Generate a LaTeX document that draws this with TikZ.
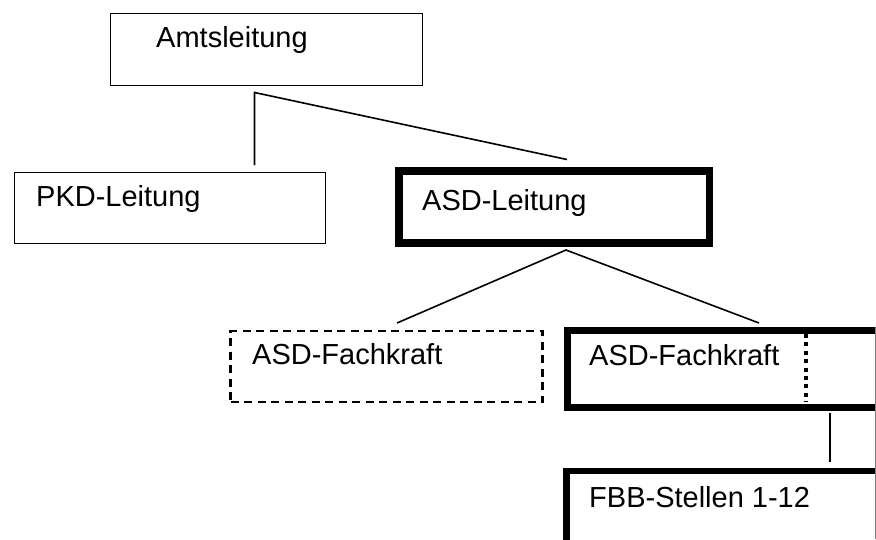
\documentclass[tikz,border=0pt]{standalone}
\usepackage{fontspec}
\setmainfont{Liberation Sans}
\begin{document}
\begin{tikzpicture}[x=1pt,y=-1pt,
  box/.style={draw, line width=1.6pt, rectangle, inner sep=0pt, outer sep=0pt, anchor=north west},
  thickbox/.style={box, line width=7.5pt},
  dashbox/.style={box, line width=2.2pt, dash pattern=on 8pt off 5.5pt},
  lbl/.style={anchor=base west, inner sep=0pt, font=\fontsize{29}{34}\selectfont},
  conn/.style={line width=1.6pt},
  dotline/.style={line width=4pt, dash pattern=on 4pt off 4.4pt}
]
\useasboundingbox (0,0) rectangle (876,539);
\clip (0,0) rectangle (876,539);
% boxes
\node[box, minimum width=312pt, minimum height=72pt] (amt) at (110.5,13.5) {};
\node[box, minimum width=311pt, minimum height=71pt] (pkd) at (14.5,172.5) {};
\node[thickbox, minimum width=310.5pt, minimum height=72pt] (asdl) at (399,171) {};
\node[dashbox, minimum width=312pt, minimum height=71pt] (asdfa) at (230.5,331) {};
\node[thickbox, line width=7pt, minimum width=320pt, minimum height=77pt] (asdfb) at (567.5,330.5) {};
\node[thickbox, line width=6.5pt, minimum width=320pt, minimum height=120pt] (fbb) at (566.5,471) {};
% labels
\node[lbl] (tamt) at (156,47.3) {Amtsleitung};
\node[lbl] (tpkd) at (36,206.3) {PKD-Leitung};
\node[lbl] (tasdl) at (422,210) {ASD-Leitung};
\node[lbl] (tasdfa) at (252,364) {ASD-Fachkraft};
\node[lbl] (tasdfb) at (589,365.7) {ASD-Fachkraft};
\node[lbl] (tfbb) at (589,507.7) {FBB-Stellen 1-12};
% connector points
\coordinate (j1) at (254.5,92.5);
\coordinate (pkdtop) at (254.5,165);
\coordinate (asdltop) at (567,159.5);
\coordinate (j2) at (566,250);
\coordinate (fatop) at (397,323);
\coordinate (fbtop) at (759,323);
\coordinate (fbbot) at (830,413);
\coordinate (fbbtop) at (830,462);
\coordinate (d1) at (806,334);
\coordinate (d2) at (806,402);
% connectors
\draw[conn] (pkdtop) -- (j1) -- (asdltop);
\draw[conn] (fatop) -- (j2) -- (fbtop);
\draw[conn] (fbbot) -- (fbbtop);
\draw[dotline] (d1) -- (d2);
\draw[line width=0.8pt, black!50] (875.5,327) -- (875.5,539);
\end{tikzpicture}
\end{document}
